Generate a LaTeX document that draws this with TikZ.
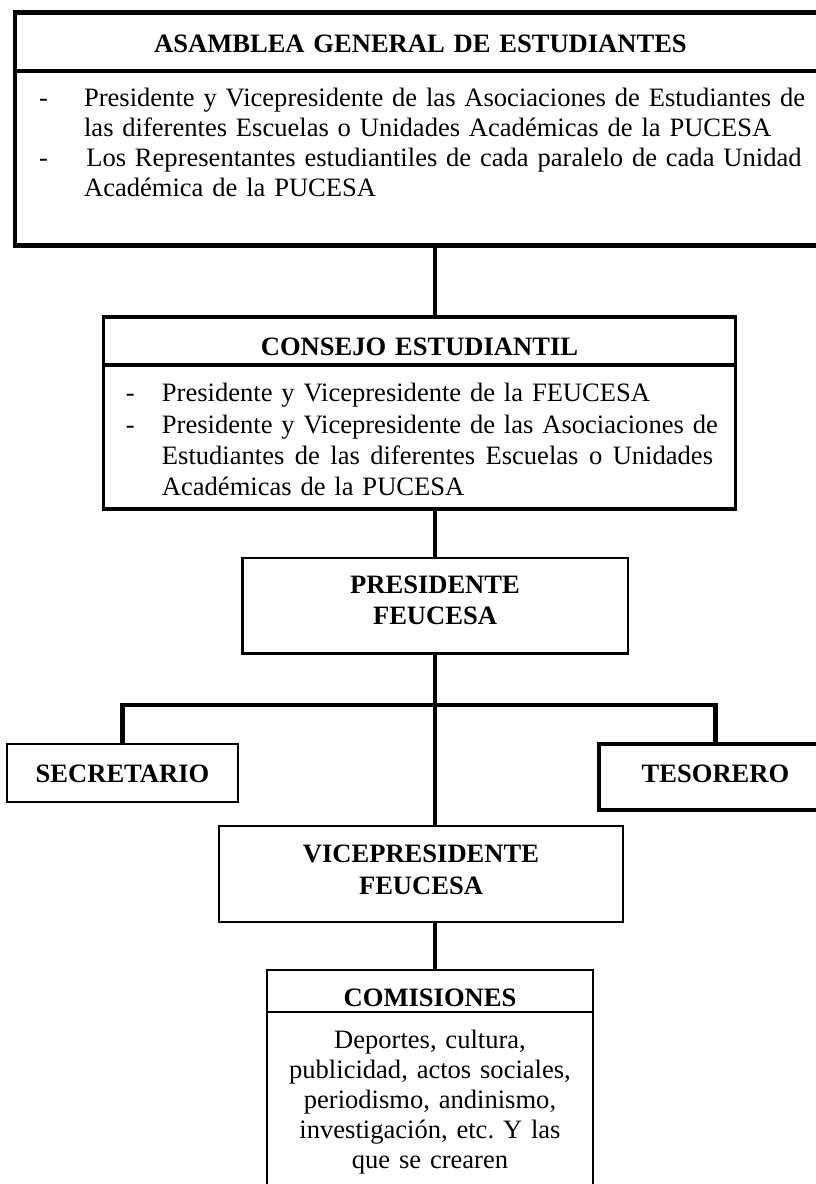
\documentclass[tikz,border=0pt]{standalone}
\usepackage{fontspec}
\setmainfont{Liberation Serif}
\usetikzlibrary{positioning}
\hfuzz=50pt
\frenchspacing
\tikzset{box/.style = {draw, rectangle, inner sep = 0, outer sep = 0, align = center, font = \fontsize{11.8}{13.8}\selectfont},
  head/.style = {box, font = \bfseries\fontsize{11.8}{14}\selectfont},
  link/.style = {line width = 1.8pt}}

\begin{document}
\begin{tikzpicture}[x = 0.4444pt, y = -0.4444pt]
  \useasboundingbox (0, 0) rectangle (816, 1184);

  % asamblea
  \node [head, line width = 2.2pt, anchor = north, text width = 360.4pt, text height = 17.6pt, text depth = 8.4pt] (asamblea) at (420.5, 12.5) {ASAMBLEA GENERAL DE ESTUDIANTES};
  \node [box, line width = 2.2pt, below = 0pt of asamblea, align = left, inner xsep = 10.7pt, text width = 339pt, text height = 15.6pt, text depth = 61.8pt, font = \fontsize{11.8}{13.4}\selectfont] (asambleaB) {\begin{tabular}[t]{@{}p{20pt}@{}l@{}}
      - & Presidente y Vicepresidente de las Asociaciones de Estudiantes de\\
        & las diferentes Escuelas o Unidades Académicas de la PUCESA\\
      - & \hspace{1pt}Los Representantes estudiantiles de cada paralelo de cada Unidad\\
        & Académica de la PUCESA
    \end{tabular}};

  % consejo
  \node [head, line width = 1.5pt, anchor = north, text width = 280.9pt, text height = 16.9pt, text depth = 4.4pt] (consejo) at (419.5, 317) {CONSEJO ESTUDIANTIL};
  \node [box, line width = 1.5pt, below = 0pt of consejo, align = left, inner xsep = 10pt, text width = 260.9pt, text height = 16.4pt, text depth = 47.6pt, font = \fontsize{11.8}{13.9}\selectfont] (consejoB) {\begin{tabular}[t]{@{}p{16pt}@{}l@{}}
      - & Presidente y Vicepresidente de la FEUCESA\\
      - & Presidente y Vicepresidente de las Asociaciones de\\
        & \makebox[244.9pt][s]{\spaceskip=0.25em plus 1em\relax Estudiantes de las diferentes Escuelas o Unidades}\\
        & Académicas de la PUCESA
    \end{tabular}};

  % presidente, secretario, tesorero, vicepresidente
  \node [head, line width = 1.3pt, anchor = north, text width = 171.5pt, text height = 15.6pt, text depth = 26.7pt] (pres) at (435, 558) {PRESIDENTE\\FEUCESA};
  \node [head, line width = 1.1pt, anchor = north, text width = 102.7pt, text height = 16.9pt, text depth = 8.9pt] (sec) at (122.5, 744) {SECRETARIO};
  \node [head, line width = 1.8pt, anchor = north, text width = 103.6pt, text height = 16.9pt, text depth = 12.4pt] (tes) at (715.5, 744) {TESORERO};
  \node [head, line width = 0.9pt, anchor = north, text width = 179.5pt, text height = 16.4pt, text depth = 26.2pt] (vice) at (421, 826) {VICEPRESIDENTE\\FEUCESA};

  % comisiones
  \node [head, line width = 0.7pt, anchor = north, text width = 144.9pt, text height = 16pt, text depth = 2.7pt] (comisiones) at (430, 970) {COMISIONES};
  \node [box, line width = 0.7pt, below = 0pt of comisiones, text width = 144.9pt, text height = 16pt, text depth = 67.5pt, font = \fontsize{11.8}{13.4}\selectfont] (comisionesB) {Deportes, cultura,\\ publicidad, actos sociales,\\ periodismo, andinismo,\\ investigación, etc. Y las\\ que se crearen};

  \draw [link] (asambleaB.south -| pres.north) -- (consejo.north -| pres.north);
  \draw [link] (consejoB.south -| pres.north) -- (pres.north);
  \draw [link] (pres.south) -- (vice.north -| pres.south);
  \coordinate (bar) at (435, 705);
  \draw [link] (sec.north) |- (bar) -| (tes.north);
  \draw [link] (vice.south -| pres.south) -- (comisiones.north -| pres.south);
\end{tikzpicture}
\end{document}
